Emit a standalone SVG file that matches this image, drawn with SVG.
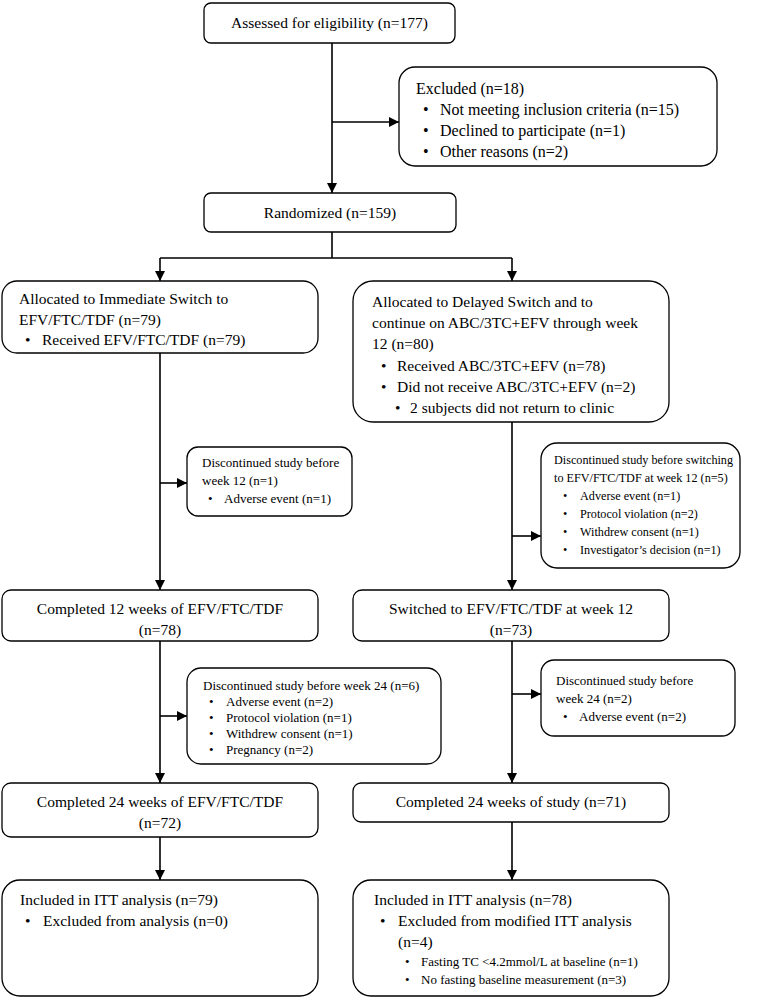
<svg xmlns="http://www.w3.org/2000/svg" width="773" height="999" viewBox="0 0 773 999">
<style>
.box{fill:#fff;stroke:#000;stroke-width:1.3}
.t{font-family:"Liberation Serif","Times New Roman",serif;font-size:15.5px;fill:#000}
.s{font-family:"Liberation Serif","Times New Roman",serif;font-size:13px;fill:#000}
.x{font-family:"Liberation Serif","Times New Roman",serif;font-size:12.2px;fill:#000}
.c{text-anchor:middle}
.ln{stroke:#000;stroke-width:1.6;fill:none}
</style>
<defs>
<marker id="ah" viewBox="0 0 10 10" refX="10" refY="5" markerWidth="10" markerHeight="10" markerUnits="userSpaceOnUse" orient="auto">
<path d="M0,0 L10,5 L0,10 z" fill="#000"/>
</marker>
</defs>
<rect width="773" height="999" fill="#fff"/>
<g id="connectors">
<line class="ln" x1="332" y1="43" x2="332" y2="193" marker-end="url(#ah)"/>
<line class="ln" x1="332" y1="122" x2="399" y2="122" marker-end="url(#ah)"/>
<line class="ln" x1="332" y1="232" x2="332" y2="258"/>
<line class="ln" x1="160" y1="258" x2="512" y2="258"/>
<line class="ln" x1="160" y1="258" x2="160" y2="281" marker-end="url(#ah)"/>
<line class="ln" x1="512" y1="258" x2="512" y2="281" marker-end="url(#ah)"/>
<line class="ln" x1="160" y1="353" x2="160" y2="590" marker-end="url(#ah)"/>
<line class="ln" x1="160" y1="483" x2="187" y2="483" marker-end="url(#ah)"/>
<line class="ln" x1="512" y1="422" x2="512" y2="590" marker-end="url(#ah)"/>
<line class="ln" x1="512" y1="536" x2="541" y2="536" marker-end="url(#ah)"/>
<line class="ln" x1="160" y1="641" x2="160" y2="783" marker-end="url(#ah)"/>
<line class="ln" x1="160" y1="716" x2="187" y2="716" marker-end="url(#ah)"/>
<line class="ln" x1="512" y1="641" x2="512" y2="783" marker-end="url(#ah)"/>
<line class="ln" x1="512" y1="694" x2="541" y2="694" marker-end="url(#ah)"/>
<line class="ln" x1="160" y1="837" x2="160" y2="880" marker-end="url(#ah)"/>
<line class="ln" x1="512" y1="822" x2="512" y2="880" marker-end="url(#ah)"/>
</g>
<g id="assessed">
<rect class="box" x="204" y="3" width="251" height="40" rx="7"/>
<text class="t c" x="329.5" y="28">Assessed for eligibility (n=177)</text>
</g>
<g id="excluded">
<rect class="box" x="399" y="67" width="318" height="99" rx="16"/>
<text class="t" x="416" y="94" style="font-size:16px">Excluded (n=18)</text>
<text class="t" x="423" y="115" style="font-size:16px">•</text><text class="t" x="440" y="115" style="font-size:16px">Not meeting inclusion criteria (n=15)</text>
<text class="t" x="423" y="136" style="font-size:16px">•</text><text class="t" x="440" y="136" style="font-size:16px">Declined to participate (n=1)</text>
<text class="t" x="423" y="157" style="font-size:16px">•</text><text class="t" x="440" y="157" style="font-size:16px">Other reasons (n=2)</text>
</g>
<g id="randomized">
<rect class="box" x="204" y="193" width="252" height="39" rx="7"/>
<text class="t c" x="330" y="218">Randomized (n=159)</text>
</g>
<g id="alloc-immediate">
<rect class="box" x="2" y="281" width="316" height="72" rx="15"/>
<text class="t" x="19" y="304">Allocated to Immediate Switch to</text>
<text class="t" x="19" y="325">EFV/FTC/TDF (n=79)</text>
<text class="t" x="25" y="345">•</text><text class="t" x="42" y="345">Received EFV/FTC/TDF (n=79)</text>
</g>
<g id="alloc-delayed">
<rect class="box" x="353" y="281" width="316" height="141" rx="20"/>
<text class="t" x="372" y="307">Allocated to Delayed Switch and to</text>
<text class="t" x="372" y="328">continue on ABC/3TC+EFV through week</text>
<text class="t" x="372" y="349">12 (n=80)</text>
<text class="t" x="381" y="371">•</text><text class="t" x="397" y="371">Received ABC/3TC+EFV (n=78)</text>
<text class="t" x="381" y="392">•</text><text class="t" x="397" y="392">Did not receive ABC/3TC+EFV (n=2)</text>
<text class="t" x="395" y="413">•</text><text class="t" x="410" y="413">2 subjects did not return to clinic</text>
</g>
<g id="disc-wk12-left">
<rect class="box" x="187" y="447" width="165" height="69" rx="11"/>
<text class="s" x="202" y="467">Discontinued study before</text>
<text class="s" x="202" y="485">week 12 (n=1)</text>
<text class="s" x="208" y="503">•</text><text class="s" x="224" y="503">Adverse event (n=1)</text>
</g>
<g id="disc-wk12-right">
<rect class="box" x="541" y="443" width="199" height="125" rx="16"/>
<text class="x" x="554" y="464">Discontinued study before switching</text>
<text class="x" x="554" y="482">to EFV/FTC/TDF at week 12 (n=5)</text>
<text class="x" x="563" y="500">•</text><text class="x" x="580" y="500">Adverse event (n=1)</text>
<text class="x" x="563" y="518">•</text><text class="x" x="580" y="518">Protocol violation (n=2)</text>
<text class="x" x="563" y="536">•</text><text class="x" x="580" y="536">Withdrew consent (n=1)</text>
<text class="x" x="563" y="554">•</text><text class="x" x="580" y="554">Investigator’s decision (n=1)</text>
</g>
<g id="completed12">
<rect class="box" x="2" y="590" width="316" height="51" rx="9"/>
<text class="t c" x="160" y="614">Completed 12 weeks of EFV/FTC/TDF</text>
<text class="t c" x="160" y="635">(n=78)</text>
</g>
<g id="switched12">
<rect class="box" x="353" y="590" width="316" height="51" rx="9"/>
<text class="t c" x="511" y="614">Switched to EFV/FTC/TDF at week 12</text>
<text class="t c" x="511" y="635">(n=73)</text>
</g>
<g id="disc-wk24-left">
<rect class="box" x="187" y="668" width="254" height="96" rx="14"/>
<text class="s" x="203" y="690">Discontinued study before week 24 (n=6)</text>
<text class="s" x="209" y="706">•</text><text class="s" x="226" y="706">Adverse event (n=2)</text>
<text class="s" x="209" y="722">•</text><text class="s" x="226" y="722">Protocol violation (n=1)</text>
<text class="s" x="209" y="738">•</text><text class="s" x="226" y="738">Withdrew consent (n=1)</text>
<text class="s" x="209" y="754">•</text><text class="s" x="226" y="754">Pregnancy (n=2)</text>
</g>
<g id="disc-wk24-right">
<rect class="box" x="541" y="660" width="194" height="76" rx="13"/>
<text class="s" x="556" y="685">Discontinued study before</text>
<text class="s" x="556" y="703">week 24 (n=2)</text>
<text class="s" x="563" y="721">•</text><text class="s" x="579" y="721">Adverse event (n=2)</text>
</g>
<g id="completed24-left">
<rect class="box" x="2" y="783" width="316" height="54" rx="9"/>
<text class="t c" x="160" y="807">Completed 24 weeks of EFV/FTC/TDF</text>
<text class="t c" x="160" y="828">(n=72)</text>
</g>
<g id="completed24-right">
<rect class="box" x="353" y="783" width="316" height="39" rx="8"/>
<text class="t c" x="511" y="807">Completed 24 weeks of study (n=71)</text>
</g>
<g id="itt-left">
<rect class="box" x="2" y="880" width="316" height="116" rx="18"/>
<text class="t" x="20" y="905">Included in ITT analysis (n=79)</text>
<text class="t" x="25" y="926">•</text><text class="t" x="43" y="926">Excluded from analysis (n=0)</text>
</g>
<g id="itt-right">
<rect class="box" x="353" y="880" width="316" height="116" rx="18"/>
<text class="t" x="374" y="905">Included in ITT analysis (n=78)</text>
<text class="t" x="380" y="926">•</text><text class="t" x="398" y="926">Excluded from modified ITT analysis</text>
<text class="t" x="398" y="947">(n=4)</text>
<text class="s" x="405" y="966">•</text><text class="s" x="421" y="966">Fasting TC &lt;4.2mmol/L at baseline (n=1)</text>
<text class="s" x="405" y="984">•</text><text class="s" x="421" y="984">No fasting baseline measurement (n=3)</text>
</g>
</svg>
